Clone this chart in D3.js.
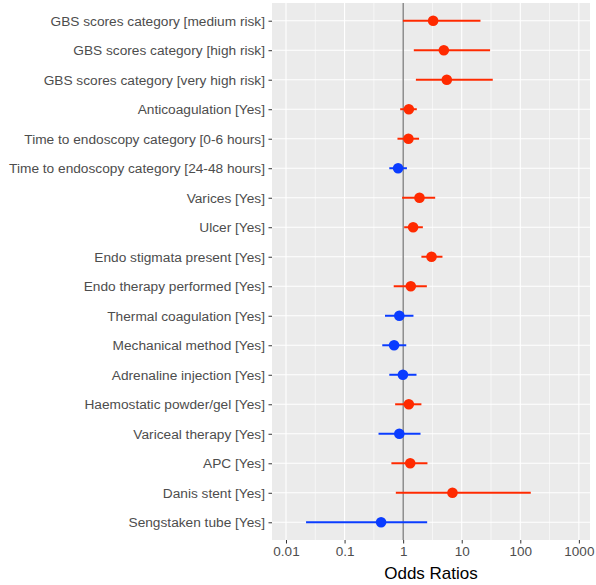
<!DOCTYPE html>
<html>
<head>
<meta charset="utf-8">
<style>
  body { margin: 0; background: #fff; }
  svg { display: block; font-family: 'Liberation Sans', Arial, sans-serif; }
</style>
</head>
<body>
<svg width="596" height="585"></svg>
<script src="https://d3js.org/d3.v7.min.js"></script>
<script>
// terms, top to bottom
const terms = [
  "GBS scores category [medium risk]",
  "GBS scores category [high risk]",
  "GBS scores category [very high risk]",
  "Anticoagulation [Yes]",
  "Time to endoscopy category [0-6 hours]",
  "Time to endoscopy category [24-48 hours]",
  "Varices [Yes]",
  "Ulcer [Yes]",
  "Endo stigmata present [Yes]",
  "Endo therapy performed [Yes]",
  "Thermal coagulation [Yes]",
  "Mechanical method [Yes]",
  "Adrenaline injection [Yes]",
  "Haemostatic powder/gel [Yes]",
  "Variceal therapy [Yes]",
  "APC [Yes]",
  "Danis stent [Yes]",
  "Sengstaken tube [Yes]"
];
const estimate = [3.25, 4.95, 5.56, 1.25, 1.23, 0.82, 1.90, 1.48, 3.05, 1.35, 0.86, 0.70, 0.99, 1.25, 0.86, 1.32, 6.95, 0.42];
const ciLow    = [0.99, 1.52, 1.65, 0.89, 0.80, 0.58, 0.96, 1.04, 2.05, 0.69, 0.49, 0.44, 0.58, 0.73, 0.38, 0.63, 0.75, 0.022];
const ciHigh   = [20.9, 30.5, 33.9, 1.71, 1.87, 1.16, 3.52, 2.17, 4.69, 2.54, 1.50, 1.13, 1.69, 2.05, 1.98, 2.60, 151, 2.57];
const ticks = [0.01, 0.1, 1, 10, 100, 1000];
const tickLabels = ["0.01", "0.1", "1", "10", "100", "1000"];

const rows = terms.map((t, i) => ({term: t, est: estimate[i], lo: ciLow[i], hi: ciHigh[i]}));

const svg = d3.select("svg");
const panel = {left: 272, right: 590, top: 3, bottom: 540};

const x = d3.scaleLog()
  .domain([Math.pow(10, -2.239), Math.pow(10, 3.19)])
  .range([panel.left, panel.right]);

// discrete scale with ggplot style 0.6 expansion
const y = d3.scalePoint()
  .domain(terms)
  .range([panel.top, panel.bottom])
  .padding(0.6);

const red = "#ff2a00", blue = "#0a3cff";

svg.append("rect")
  .attr("x", panel.left).attr("y", panel.top)
  .attr("width", panel.right - panel.left).attr("height", panel.bottom - panel.top)
  .attr("fill", "#ebebeb");

// minor grid (half decades)
const minor = d3.range(-2, 3.5, 1).map(e => Math.pow(10, e + 0.5));
svg.append("g").selectAll("line")
  .data(minor)
  .join("line")
  .attr("x1", d => x(d)).attr("x2", d => x(d))
  .attr("y1", panel.top).attr("y2", panel.bottom)
  .attr("stroke", "#fff").attr("stroke-width", 0.6);

// major grid
svg.append("g").selectAll("line")
  .data(ticks)
  .join("line")
  .attr("x1", d => x(d)).attr("x2", d => x(d))
  .attr("y1", panel.top).attr("y2", panel.bottom)
  .attr("stroke", "#fff").attr("stroke-width", 1.1);

svg.append("g").selectAll("line")
  .data(terms)
  .join("line")
  .attr("x1", panel.left).attr("x2", panel.right)
  .attr("y1", d => y(d)).attr("y2", d => y(d))
  .attr("stroke", "#fff").attr("stroke-width", 1.1);

// reference line at 1
svg.append("line")
  .attr("x1", x(1)).attr("x2", x(1))
  .attr("y1", panel.top).attr("y2", panel.bottom)
  .attr("stroke", "#555").attr("stroke-width", 1);

const col = d => d.est > 1 ? red : blue;

svg.append("g").selectAll("line")
  .data(rows)
  .join("line")
  .attr("x1", d => x(d.lo)).attr("x2", d => x(d.hi))
  .attr("y1", d => y(d.term)).attr("y2", d => y(d.term))
  .attr("stroke", col).attr("stroke-width", 2);

svg.append("g").selectAll("circle")
  .data(rows)
  .join("circle")
  .attr("cx", d => x(d.est)).attr("cy", d => y(d.term))
  .attr("r", 5.3)
  .attr("fill", col);

// y axis
const yAxis = svg.append("g").attr("transform", `translate(${panel.left},0)`)
  .call(d3.axisLeft(y).tickSize(3.5).tickPadding(3.5));
yAxis.select(".domain").remove();
yAxis.selectAll(".tick line").attr("stroke", "#333").attr("stroke-width", 1);
yAxis.selectAll(".tick text").attr("fill", "#4d4d4d").attr("font-size", 13.7)
  .attr("font-family", "'Liberation Sans', Arial, sans-serif");

// x axis
const xAxis = svg.append("g").attr("transform", `translate(0,${panel.bottom})`)
  .call(d3.axisBottom(x).tickValues(ticks).tickFormat((d, i) => tickLabels[i]).tickSize(3.5).tickPadding(3));
xAxis.select(".domain").remove();
xAxis.selectAll(".tick line").attr("stroke", "#333").attr("stroke-width", 1);
xAxis.selectAll(".tick text").attr("fill", "#4d4d4d").attr("font-size", 13.5)
  .attr("font-family", "'Liberation Sans', Arial, sans-serif");

svg.append("text")
  .attr("x", (panel.left + panel.right) / 2).attr("y", 579)
  .attr("text-anchor", "middle")
  .attr("font-size", 17).attr("fill", "#000")
  .text("Odds Ratios");
</script>
</body>
</html>
